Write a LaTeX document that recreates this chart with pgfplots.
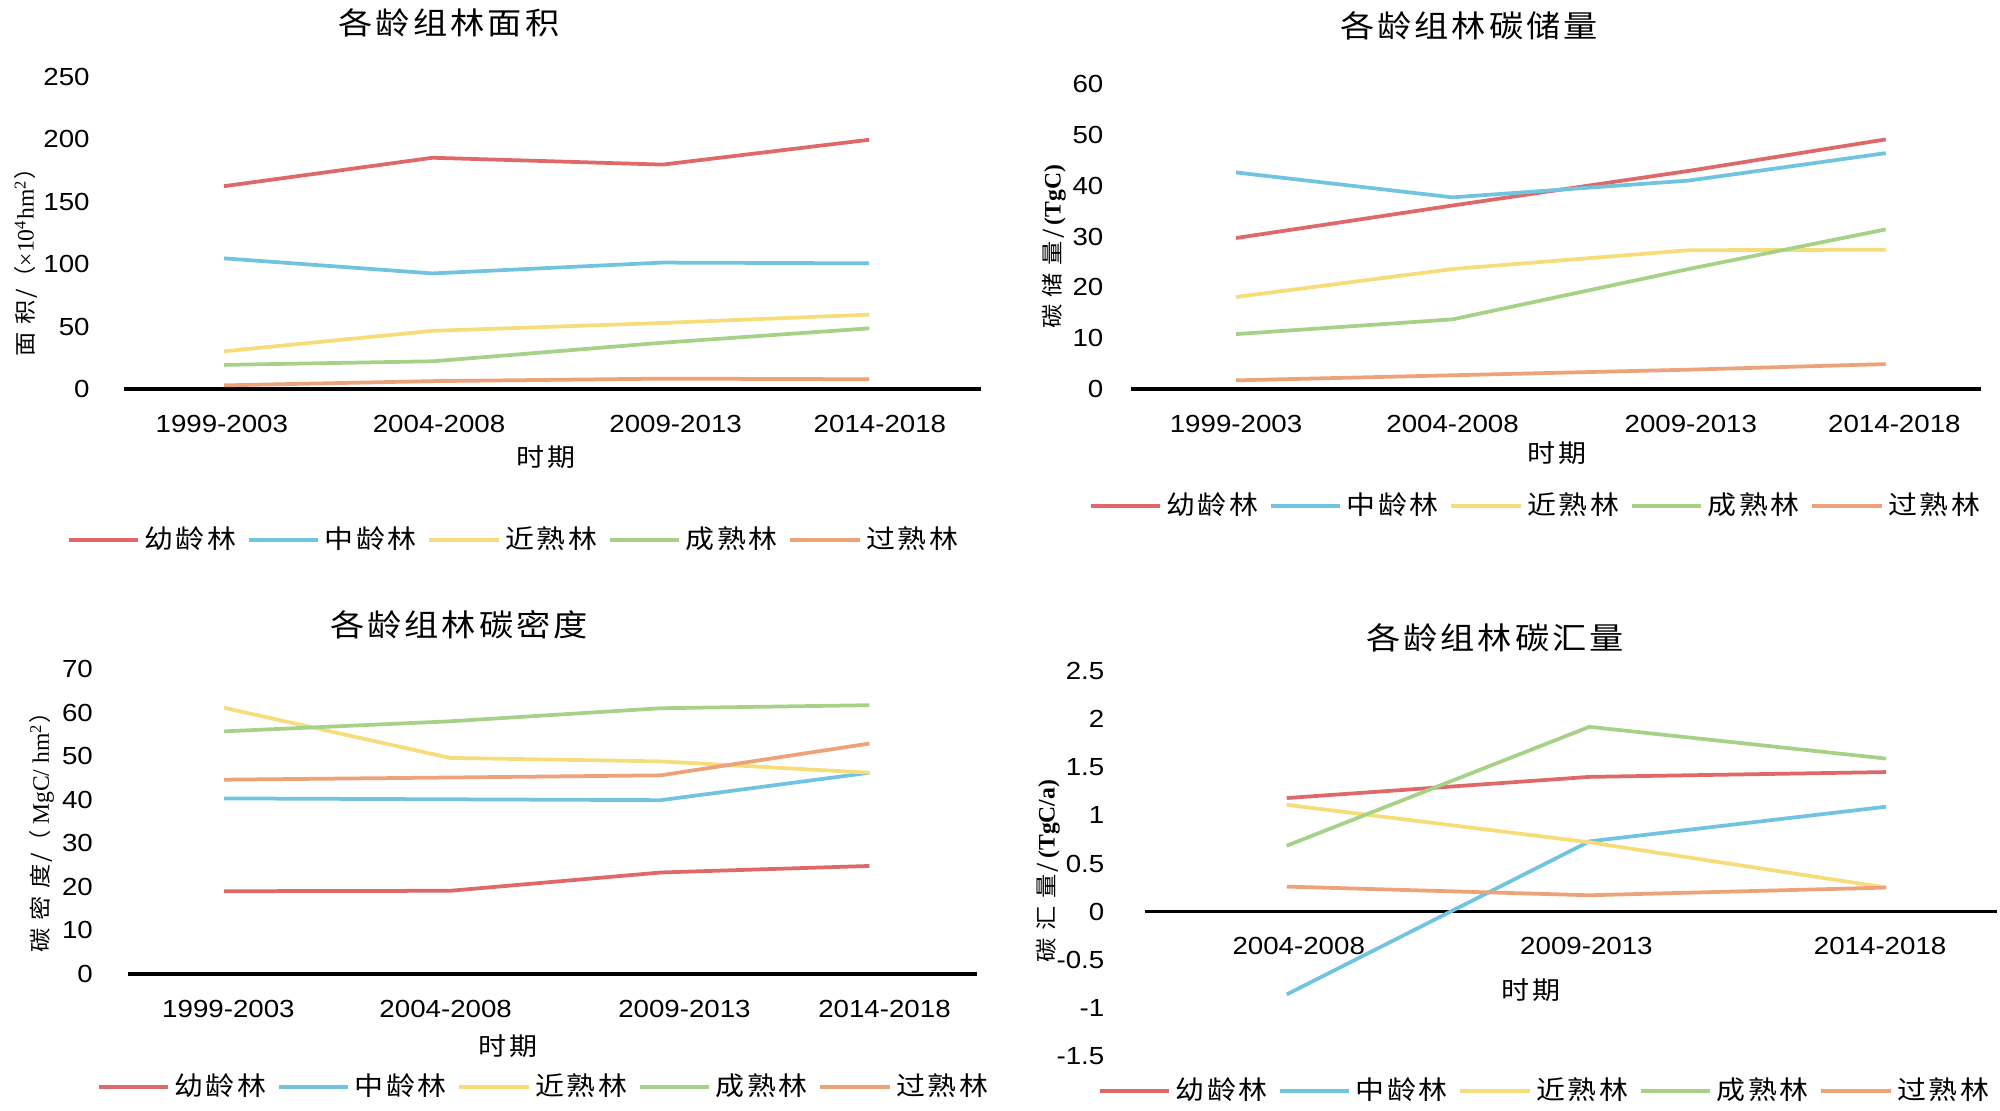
\documentclass[border=0pt]{standalone}
\usepackage{pgfplots}
\pgfplotsset{compat=1.18}
\usepackage{fontspec}
\setmainfont[FakeStretch=1.12]{Liberation Sans}
\newfontfamily\cjk[FakeStretch=1.12,LetterSpace=10]{Noto Sans CJK SC}
\newfontfamily\cjkp{Noto Sans CJK SC}
\newfontfamily\ser{Liberation Serif}
\definecolor{cR}{RGB}{222,104,106}
\definecolor{cB}{RGB}{112,196,224}
\definecolor{cY}{RGB}{246,221,122}
\definecolor{cG}{RGB}{166,210,136}
\definecolor{cO}{RGB}{238,162,122}
\pgfplotsset{
  base/.style={
    scale only axis, anchor=south west,
    axis x line=middle, axis y line=left,
    x axis line style={-, black, line width=1.3pt},
    every inner x axis line/.append style={-},
    y axis line style={draw=none},
    tick style={draw=none},
    enlargelimits=false, clip=false,
    /pgf/number format/assume math mode=true,
    ticklabel style={font=\fontsize{8.9}{10}\selectfont},
    xticklabel style={yshift=-3.6pt},
    legend columns=5,
    legend style={draw=none, fill=none, anchor=west, inner sep=0pt,
      font=\cjk\fontsize{9.3}{11}\selectfont,
      nodes={inner xsep=1.6pt, inner ysep=0pt},
      /tikz/every even column/.append style={column sep=2.2pt}},
    legend image code/.code={\draw[##1, line width=1.45pt] (0pt,0pt) -- (25pt,0pt);},
    every axis plot/.append style={line width=1.35pt, mark=none},
  },
  four/.style={xtick={0,1,2.1,3.05}, xticklabels={1999-2003,2004-2008,2009-2013,2014-2018}},
}
\begin{document}
\begin{tikzpicture}
\path[use as bounding box] (0pt,0pt) rectangle (720pt,399.6pt);

% ---------- top left: area ----------
\begin{axis}[base, four, at={(44.64pt,259.56pt)}, width=308.52pt, height=112.32pt,
  xmin=-0.465, xmax=3.52, ymin=0, ymax=250, ytick={0,50,100,150,200,250},
  yticklabel style={xshift=-6.7pt},
  xtick={-0.01,1.0,2.1,3.05},
  legend style={at={(-0.0677,-0.484)}}]
\addplot[cR] coordinates {(0,162.5) (0.97,185.3) (2.04,179.8) (3,199.7)};
\addlegendentry{幼龄林}
\addplot[cB] coordinates {(0,104.7) (0.97,92.6) (2.04,101.3) (3,100.7)};
\addlegendentry{中龄林}
\addplot[cY] coordinates {(0,30.2) (0.97,46.6) (2.04,52.9) (3,59.6)};
\addlegendentry{近熟林}
\addplot[cG] coordinates {(0,19.3) (0.97,22.2) (2.04,37.1) (3,48.6)};
\addlegendentry{成熟林}
\addplot[cO] coordinates {(0,2.9) (0.97,6.3) (2.04,8.3) (3,7.8)};
\addlegendentry{过熟林}
\end{axis}

% ---------- top right: carbon storage ----------
\begin{axis}[base, four, at={(407.16pt,259.56pt)}, width=306pt, height=109.8pt,
  xmin=-0.485, xmax=3.44, ymin=0, ymax=60, ytick={0,10,...,60},
  yticklabel style={xshift=-4.3pt},
  xtick={0,1.0,2.1,3.04},
  legend style={at={(-0.0506,-0.384)}}]
\addplot[cR] coordinates {(0,29.7) (1.0,36.1) (2.09,42.9) (3,49.1)};
\addlegendentry{幼龄林}
\addplot[cB] coordinates {(0,42.6) (1.0,37.7) (2.09,41.0) (3,46.4)};
\addlegendentry{中龄林}
\addplot[cY] coordinates {(0,18.1) (1.0,23.6) (2.09,27.3) (3,27.4)};
\addlegendentry{近熟林}
\addplot[cG] coordinates {(0,10.8) (1.0,13.7) (2.09,23.6) (3,31.4)};
\addlegendentry{成熟林}
\addplot[cO] coordinates {(0,1.7) (1.0,2.7) (2.09,3.8) (3,4.9)};
\addlegendentry{过熟林}
\end{axis}

% ---------- bottom left: carbon density ----------
\begin{axis}[base, four, at={(46.08pt,48.96pt)}, width=305.64pt, height=109.8pt,
  xmin=-0.447, xmax=3.50, ymin=0, ymax=70, ytick={0,10,...,70},
  yticklabel style={xshift=-7pt},
  xtick={0.02,1.03,2.14,3.07},
  legend style={at={(-0.0377,-0.370)}}]
\addplot[cR] coordinates {(0,19.0) (1.05,19.1) (2.03,23.3) (3,24.8)};
\addlegendentry{幼龄林}
\addplot[cB] coordinates {(0,40.3) (1.05,40.1) (2.03,39.9) (3,46.2)};
\addlegendentry{中龄林}
\addplot[cY] coordinates {(0,61.1) (1.05,49.6) (2.03,48.8) (3,46.2)};
\addlegendentry{近熟林}
\addplot[cG] coordinates {(0,55.7) (1.05,58.0) (2.03,61.0) (3,61.7)};
\addlegendentry{成熟林}
\addplot[cO] coordinates {(0,44.6) (1.05,45.1) (2.03,45.6) (3,52.9)};
\addlegendentry{过熟林}
\end{axis}

% ---------- bottom right: carbon sink ----------
\begin{axis}[base, at={(412.2pt,19.44pt)}, width=306.72pt, height=138.6pt,
  xmin=-0.473, xmax=2.37, ymin=-1.5, ymax=2.5, ytick={-1.5,-1,...,2.5},
  yticklabel style={xshift=-9pt},
  xtick={0.04,1.0,1.98}, xticklabels={2004-2008,2009-2013,2014-2018},
  legend style={at={(-0.0563,-0.0909)}}]
\addplot[cR] coordinates {(0,1.18) (1.01,1.40) (2,1.45)};
\addlegendentry{幼龄林}
\addplot[cB] coordinates {(0,-0.86) (1.01,0.73) (2,1.09)};
\addlegendentry{中龄林}
\addplot[cY] coordinates {(0,1.11) (1.01,0.72) (2,0.25)};
\addlegendentry{近熟林}
\addplot[cG] coordinates {(0,0.685) (1.01,1.92) (2,1.59)};
\addlegendentry{成熟林}
\addplot[cO] coordinates {(0,0.26) (1.01,0.17) (2,0.25)};
\addlegendentry{过熟林}
\end{axis}

% ---------- titles ----------
\begin{scope}[every node/.style={font=\cjk\fontsize{11}{13}\selectfont, inner sep=0pt}]
\node at (161.64pt,391.32pt) {各龄组林面积};
\node at (528.84pt,390.24pt) {各龄组林碳储量};
\node at (165.24pt,174.6pt) {各龄组林碳密度};
\node at (538.2pt,169.92pt) {各龄组林碳汇量};
\end{scope}
% ---------- x labels ----------
\begin{scope}[every node/.style={font=\cjk\fontsize{9}{11}\selectfont, inner sep=0pt}]
\node at (196.56pt,235.08pt) {时期};
\node at (560.52pt,236.52pt) {时期};
\node at (182.88pt,23.04pt) {时期};
\node at (551.16pt,43.2pt) {时期};
\end{scope}
% ---------- y labels ----------
\begin{scope}[every node/.style={rotate=90, inner sep=0pt, font=\fontsize{8.5}{10}\selectfont}]
\node at (9.36pt,307.08pt) {{\cjk\fontsize{7.8}{9}\selectfont 面 积/}{\cjkp\fontsize{8}{9}\selectfont （}{\ser ×10\textsuperscript{4}hm\textsuperscript{2}}{\cjkp\fontsize{8}{9}\selectfont ）}};
\node at (379.44pt,310.68pt) {{\cjk\fontsize{7.8}{9}\selectfont 碳 储 量/}\,{\ser\bfseries (TgC)}};
\node at (15.12pt,101.88pt) {{\cjk\fontsize{7.8}{9}\selectfont 碳 密 度/}{\cjkp\fontsize{8}{9}\selectfont （}{\ser\ MgC/ hm\textsuperscript{2}}{\cjkp\fontsize{8}{9}\selectfont ）}};
\node at (377.28pt,86.04pt) {{\cjk\fontsize{7.8}{9}\selectfont 碳 汇 量/}\,{\ser\bfseries (TgC/a)}};
\end{scope}
\end{tikzpicture}
\end{document}
